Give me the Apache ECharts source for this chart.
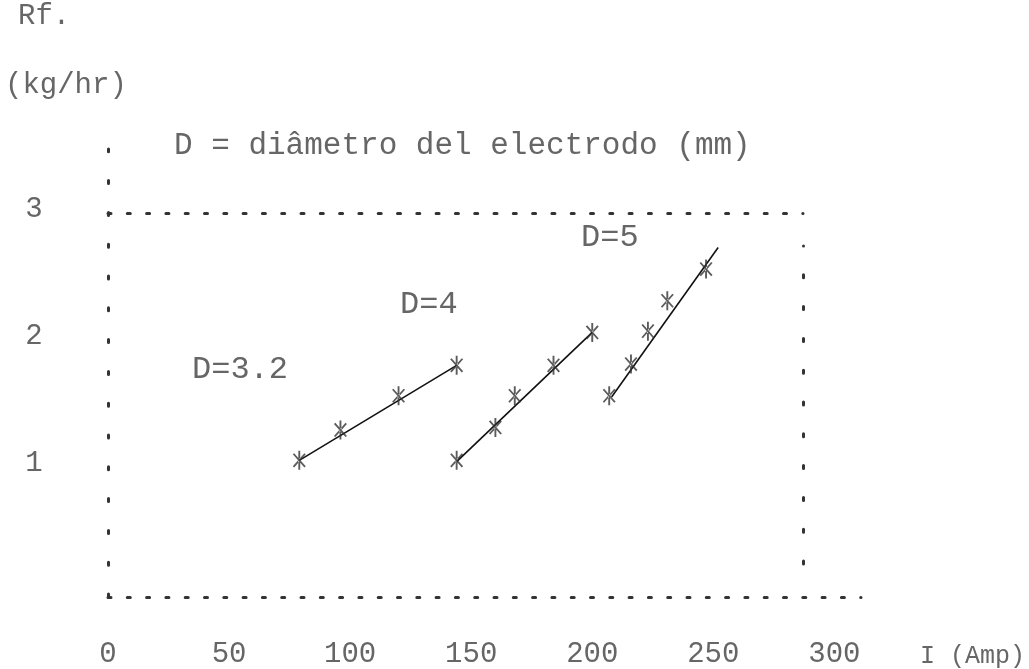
<!DOCTYPE html>
<html>
<head>
<meta charset="utf-8">
<script src="https://cdn.jsdelivr.net/npm/echarts@6/dist/echarts.min.js"></script>
<style>
html,body{margin:0;padding:0;background:#fff;}
#chart{width:1029px;height:669px;}
</style>
</head>
<body>
<div id="chart"></div>
<script>
// ---- data ----
const xTickLabels = [0, 50, 100, 150, 200, 250, 300];
const yTickLabels = [1, 2, 3];

const d32Amp  = [79, 96, 120, 144];
const d32Rate = [1.02, 1.26, 1.53, 1.77];
const d4Amp   = [144, 160, 168, 184, 200];
const d4Rate  = [1.02, 1.28, 1.53, 1.77, 2.03];
const d5Amp   = [207, 216, 223, 231, 247];
const d5Rate  = [1.53, 1.78, 2.04, 2.28, 2.53];

// fitted straight lines (end points)
const d32FitAmp  = [79, 144];
const d32FitRate = [1.02, 1.77];
const d4FitAmp   = [144, 200];
const d4FitRate  = [1.01, 2.03];
const d5FitAmp   = [208, 252];
const d5FitRate  = [1.52, 2.70];

const seriesNames = ['D=3.2', 'D=4', 'D=5'];

const zip = (a, b) => a.map((v, i) => [v, b[i]]);

const FONT = '"Liberation Mono", "DejaVu Sans Mono", monospace';
const TXT = '#666';
const DOT = '#333';

const starPath = 'path://M5.2,0 L6.8,0 L6.8,18 L5.2,18 Z M0.5,3.3 L1.7,2.3 L11.5,14.7 L10.3,15.7 Z M11.5,3.3 L10.3,2.3 L0.5,14.7 L1.7,15.7 Z';

const chart = echarts.init(document.getElementById('chart'), null, {renderer: 'canvas'});

const yFmt = v => {
  const r = Math.round(v);
  return (Math.abs(v - r) < 1e-6 && yTickLabels.indexOf(r) >= 0) ? String(r) : '';
};
const xFmt = v => (xTickLabels.indexOf(v) >= 0 ? String(v) : '');

function scatter(name, amp, rate) {
  return {
    name: name, type: 'scatter', xAxisIndex: 0, yAxisIndex: 0,
    data: zip(amp, rate), symbol: starPath, symbolSize: [13, 19],
    itemStyle: {color: '#333'}, z: 5, silent: true
  };
}
function fit(name, amp, rate) {
  return {
    name: name + ' fit', type: 'line', xAxisIndex: 0, yAxisIndex: 0,
    data: zip(amp, rate), showSymbol: false, symbol: 'none',
    lineStyle: {color: '#111', width: 1.6}, z: 4, silent: true
  };
}

chart.setOption({
  animation: false,
  backgroundColor: '#fff',
  grid: [
    {left: 108, right: 168, top: 149, bottom: 69},   // main: left + bottom frame
    {left: 108, right: 226, top: 213, bottom: 69},   // top frame line
    {left: 108, right: 226, top: 246, bottom: 105}   // right frame line
  ],
  xAxis: [
    {
      gridIndex: 0, type: 'value', min: 0, max: 311, interval: 50,
      axisLine: {show: true, onZero: false, lineStyle: {color: DOT, width: 3, type: [3, 16.3]}},
      axisTick: {show: false}, splitLine: {show: false},
      axisLabel: {formatter: xFmt, showMaxLabel: false, margin: 43,
        fontFamily: FONT, fontSize: 29, color: TXT}
    },
    {
      gridIndex: 1, type: 'value', position: 'top', min: 0, max: 1,
      axisLine: {show: true, onZero: false, lineStyle: {color: DOT, width: 3, type: [3, 16.3]}},
      axisTick: {show: false}, splitLine: {show: false}, axisLabel: {show: false}
    },
    {
      gridIndex: 2, type: 'value', min: 0, max: 1, show: false
    }
  ],
  yAxis: [
    {
      gridIndex: 0, type: 'value', min: -0.059, max: 3.478,
      axisLine: {show: true, onZero: false, lineStyle: {color: DOT, width: 3, type: [3, 28.8]}},
      axisTick: {show: false}, splitLine: {show: false},
      axisLabel: {formatter: yFmt, showMinLabel: false, showMaxLabel: false,
        margin: 74, fontFamily: FONT, fontSize: 29, color: TXT, align: 'center'}
    },
    {
      gridIndex: 1, type: 'value', min: 0, max: 1, show: false
    },
    {
      gridIndex: 2, type: 'value', position: 'right', min: 0, max: 1,
      axisLine: {show: true, onZero: false, lineStyle: {color: DOT, width: 3, type: [3, 28.8]}},
      axisTick: {show: false}, splitLine: {show: false}, axisLabel: {show: false}
    }
  ],
  graphic: [
    {type: 'text', left: 18, top: 2, style: {text: 'Rf.', font: '29px ' + FONT, fill: TXT}},
    {type: 'text', left: 5, top: 71, style: {text: '(kg/hr)', font: '29px ' + FONT, fill: TXT}},
    {type: 'text', left: 174, top: 130, style: {text: 'D = diâmetro del electrodo (mm)', font: '31px ' + FONT, fill: TXT}},
    {type: 'text', left: 192, top: 354, style: {text: seriesNames[0], font: '32px ' + FONT, fill: TXT}},
    {type: 'text', left: 400, top: 289, style: {text: seriesNames[1], font: '32px ' + FONT, fill: TXT}},
    {type: 'text', left: 581, top: 222, style: {text: seriesNames[2], font: '32px ' + FONT, fill: TXT}},
    {type: 'text', left: 920, top: 644, style: {text: 'I (Amp)', font: '25px ' + FONT, fill: TXT}}
  ],
  series: [
    fit(seriesNames[0], d32FitAmp, d32FitRate),
    fit(seriesNames[1], d4FitAmp, d4FitRate),
    fit(seriesNames[2], d5FitAmp, d5FitRate),
    scatter(seriesNames[0], d32Amp, d32Rate),
    scatter(seriesNames[1], d4Amp, d4Rate),
    scatter(seriesNames[2], d5Amp, d5Rate)
  ]
});
</script>
</body>
</html>
